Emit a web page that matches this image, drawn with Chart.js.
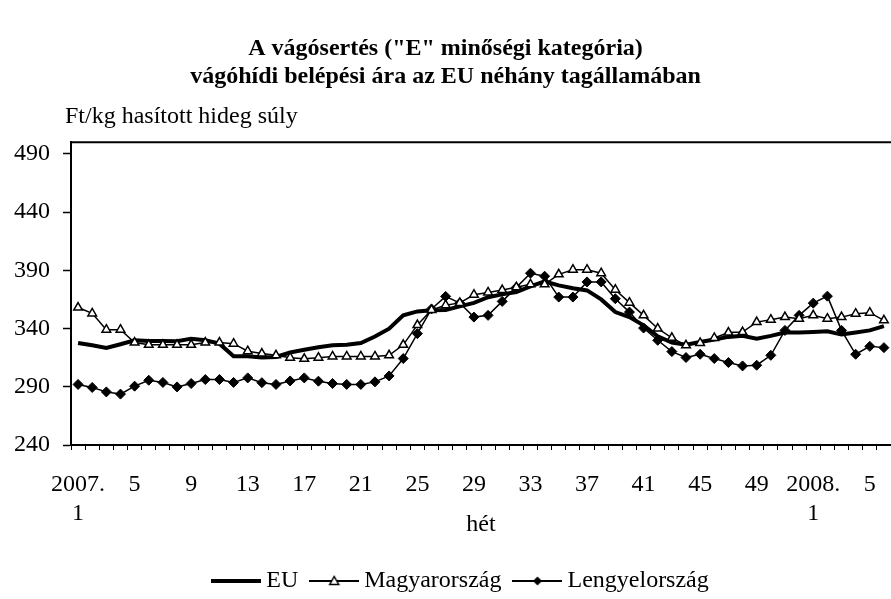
<!DOCTYPE html>
<html>
<head>
<meta charset="utf-8">
<script src="https://cdn.jsdelivr.net/npm/chart.js@4.4.0/dist/chart.umd.min.js"></script>
<style>
html, body { margin: 0; padding: 0; background: #fff; }
canvas { display: block; }
</style>
</head>
<body>
<canvas id="chart" width="891" height="599"></canvas>
<script>
const weeks = [
    '2007.1', '2', '3', '4', '5', '6', '7', '8', '9', '10', '11', '12', '13',
    '14', '15', '16', '17', '18', '19', '20', '21', '22', '23', '24', '25', '26',
    '27', '28', '29', '30', '31', '32', '33', '34', '35', '36', '37', '38', '39',
    '40', '41', '42', '43', '44', '45', '46', '47', '48', '49', '50', '51', '52',
    '2008.1', '2', '3', '4', '5', '6'
];

const euPrices = [
    327.6, 325.6, 323.3, 326.5, 329.9, 329.3, 329.3, 329.0, 331.3, 329.9, 327.0, 316.2, 316.2,
    315.1, 315.6, 319.4, 321.8, 324.0, 325.6, 326.0, 327.6, 333.1, 339.9, 351.3, 354.7, 355.6,
    356.0, 359.0, 362.0, 366.9, 369.3, 371.3, 376.1, 380.4, 377.0, 374.6, 372.7, 365.0, 354.1,
    349.8, 342.7, 333.3, 328.0, 326.0, 328.5, 330.5, 332.8, 333.7, 331.3, 333.7, 336.5, 336.5,
    337.0, 337.7, 334.8, 336.5, 338.4, 342.0
];

const huPrices = [
    358.0, 353.0, 339.0, 339.0, 328.0, 326.0, 326.0, 326.0, 326.0, 328.0, 328.0, 327.0, 320.5,
    318.5, 317.0, 315.0, 314.0, 315.0, 316.0, 316.0, 316.0, 316.0, 317.0, 326.0, 343.0, 356.0,
    360.0, 362.0, 369.0, 371.0, 373.0, 375.5, 378.0, 378.0, 386.5, 390.5, 390.5, 387.5, 373.3,
    362.2, 351.3, 340.0, 332.0, 325.6, 327.6, 331.9, 336.5, 337.0, 345.5, 347.6, 349.8, 348.4,
    351.3, 348.4, 349.8, 352.7, 353.6, 347.0
];

const plPrices = [
    292.0, 289.4, 285.6, 283.7, 290.5, 295.6, 293.7, 289.9, 292.8, 296.2, 296.2, 293.7, 297.6,
    293.5, 292.0, 295.0, 297.6, 294.8, 292.8, 292.0, 292.0, 294.2, 299.3, 314.2, 335.6, 356.8,
    367.6, 361.9, 349.8, 351.3, 363.3, 375.3, 387.5, 384.9, 367.0, 367.0, 380.0, 380.0, 365.6,
    354.1, 340.4, 329.9, 320.2, 315.1, 317.9, 314.2, 310.8, 307.9, 308.5, 317.0, 338.4, 351.3,
    361.8, 367.8, 338.4, 317.9, 324.7, 323.6
];

const yTicks = [240, 290, 340, 390, 440, 490];

const serif = "'Liberation Serif', 'Times New Roman', serif";

// small legend samples: a line with the series marker in the middle
const makeSample = (lineWidth, marker) => {
    const c = document.createElement('canvas');
    c.width = 50;
    c.height = 14;
    const g = c.getContext('2d');
    g.strokeStyle = '#000';
    g.lineWidth = lineWidth;
    g.beginPath();
    g.moveTo(0, 7);
    g.lineTo(50, 7);
    g.stroke();
    g.lineWidth = 1.5;
    if (marker === 'triangle') {
        g.fillStyle = '#fff';
        g.beginPath();
        g.moveTo(25, 2.5);
        g.lineTo(29.5, 10.5);
        g.lineTo(20.5, 10.5);
        g.closePath();
        g.fill();
        g.stroke();
    } else if (marker === 'diamond') {
        g.fillStyle = '#000';
        g.beginPath();
        g.moveTo(25, 2.5);
        g.lineTo(29.5, 7);
        g.lineTo(25, 11.5);
        g.lineTo(20.5, 7);
        g.closePath();
        g.fill();
    }
    return c;
};

const legendSamples = [makeSample(4, null), makeSample(2, 'triangle'), makeSample(2, 'diamond')];

// plot frame top line, unit label above the plot, legend nudged to the right
const extrasPlugin = {
    id: 'extras',
    afterLayout(chart) {
        chart.legend.left += 36;
    },
    afterDraw(chart) {
        const { ctx, chartArea: a } = chart;
        ctx.save();
        ctx.strokeStyle = '#000';
        ctx.lineWidth = 2;
        ctx.beginPath();
        ctx.moveTo(a.left, a.top);
        ctx.lineTo(a.right, a.top);
        ctx.stroke();
        ctx.fillStyle = '#000';
        ctx.font = '24px ' + serif;
        ctx.textBaseline = 'alphabetic';
        ctx.fillText('Ft/kg hasított hideg súly', a.left - 6, a.top - 19);
        ctx.restore();
    }
};

new Chart(document.getElementById('chart'), {
    type: 'line',
    data: {
        labels: weeks,
        datasets: [{
            label: 'EU',
            data: euPrices,
            borderColor: '#000',
            borderWidth: 4,
            pointRadius: 0,
            order: 3
        }, {
            label: 'Magyarország',
            data: huPrices,
            borderColor: '#000',
            borderWidth: 1.5,
            pointStyle: 'triangle',
            pointRadius: 5,
            pointBackgroundColor: '#fff',
            pointBorderColor: '#000',
            pointBorderWidth: 1.5,
            order: 1
        }, {
            label: 'Lengyelország',
            data: plPrices,
            borderColor: '#000',
            borderWidth: 1.5,
            pointStyle: 'rectRot',
            pointRadius: 5,
            pointBackgroundColor: '#000',
            pointBorderColor: '#000',
            pointBorderWidth: 1,
            order: 2
        }]
    },
    options: {
        responsive: false,
        animation: false,
        layout: { autoPadding: false, padding: { left: 0, right: 0, top: 0, bottom: -4 } },
        plugins: {
            tooltip: { enabled: false },
            title: {
                display: true,
                text: ['A vágósertés ("E" minőségi kategória)', 'vágóhídi belépési ára az EU néhány tagállamában'],
                color: '#000',
                font: { family: serif, size: 24, weight: 'bold', lineHeight: 1.17 },
                padding: { top: 35, bottom: 51 }
            },
            legend: {
                position: 'bottom',
                labels: {
                    usePointStyle: true,
                    pointStyleWidth: 36,
                    color: '#000',
                    font: { family: serif, size: 24 },
                    padding: 18,
                    sort: (a, b) => a.datasetIndex - b.datasetIndex,
                    generateLabels(chart) {
                        const items = Chart.defaults.plugins.legend.labels.generateLabels(chart);
                        items.forEach(item => {
                            item.pointStyle = legendSamples[item.datasetIndex];
                        });
                        return items;
                    }
                }
            }
        },
        scales: {
            x: {
                offset: true,
                afterFit: scale => {
                    scale.height = 106;
                    scale.paddingLeft = 0;
                    scale.paddingRight = 0;
                },
                grid: { offset: true, drawOnChartArea: false, tickLength: 5, color: '#000', tickWidth: 1 },
                border: { color: '#000', width: 2 },
                ticks: {
                    autoSkip: false,
                    maxRotation: 0,
                    color: '#000',
                    padding: 20,
                    font: { family: serif, size: 24, lineHeight: 1.21 },
                    callback: (value, index) => {
                        if (index % 4 !== 0) return '';
                        const w = weeks[index];
                        if (w.includes('.')) {
                            const parts = w.split('.');
                            return [parts[0] + '.', parts[1]];
                        }
                        return w;
                    }
                },
                title: {
                    display: true,
                    text: 'hét',
                    color: '#000',
                    font: { family: serif, size: 24 },
                    padding: { top: 0, bottom: 12 }
                }
            },
            y: {
                min: 240,
                max: 500,
                afterBuildTicks: scale => {
                    scale.ticks = yTicks.map(v => ({ value: v }));
                },
                afterFit: scale => {
                    scale.width = 71;
                },
                grid: { drawOnChartArea: false, tickLength: 8, color: '#000', tickWidth: 1.5 },
                border: { color: '#000', width: 2 },
                ticks: { color: '#000', padding: 13, font: { family: serif, size: 24 } }
            }
        }
    },
    plugins: [extrasPlugin]
});
</script>
</body>
</html>
